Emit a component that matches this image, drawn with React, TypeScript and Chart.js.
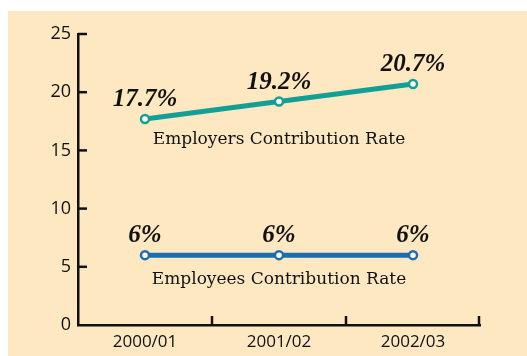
import React, { useEffect, useRef } from "react";
import { Chart, registerables } from "chart.js";

Chart.register(...registerables);

const categories = ["2000/01", "2001/02", "2002/03"];
const employersRate = [17.7, 19.2, 20.7];
const employeesRate = [6, 6, 6];
const employersLabels = ["17.7%", "19.2%", "20.7%"];
const employeesLabels = ["6%", "6%", "6%"];
const seriesNames = ["Employers Contribution Rate", "Employees Contribution Rate"];
const yTicks = [0, 5, 10, 15, 20, 25];

const TEAL = "#12a096";
const BLUE = "#1a6db1";
const INK = "#111111";

const decorPlugin = {
  id: "decor",
  beforeDraw(chart: any) {
    const { ctx, width, height } = chart;
    ctx.save();
    ctx.fillStyle = "#ffffff";
    ctx.fillRect(0, 0, width, height);
    ctx.fillStyle = "#fde8c2";
    ctx.fillRect(8, 11, width - 8, height - 11);
    ctx.restore();
  },
  afterDraw(chart: any) {
    const { ctx, chartArea } = chart;
    const x = chart.scales.x;
    const y = chart.scales.y;
    ctx.save();
    ctx.strokeStyle = INK;
    ctx.lineWidth = 2.5;
    yTicks.forEach((v) => {
      const py = y.getPixelForValue(v);
      if (v === 0) return;
      ctx.beginPath();
      ctx.moveTo(chartArea.left, py);
      ctx.lineTo(chartArea.left + 9, py);
      ctx.stroke();
    });
    const bounds: number[] = [];
    for (let i = 0; i < categories.length - 1; i++) {
      bounds.push((x.getPixelForValue(i) + x.getPixelForValue(i + 1)) / 2);
    }
    bounds.push(chartArea.right - 1);
    bounds.forEach((bx) => {
      ctx.beginPath();
      ctx.moveTo(bx, chartArea.bottom);
      ctx.lineTo(bx, chartArea.bottom - 9);
      ctx.stroke();
    });
    ctx.fillStyle = INK;
    ctx.textAlign = "center";
    ctx.textBaseline = "alphabetic";
    ctx.font = "italic bold 25px 'Liberation Serif', serif";
    const labelSets = [employersLabels, employeesLabels];
    labelSets.forEach((labels, di) => {
      const meta = chart.getDatasetMeta(di);
      meta.data.forEach((pt: any, i: number) => {
        ctx.fillText(labels[i], pt.x, pt.y - 13);
      });
    });
    ctx.font = "17px 'DejaVu Serif', serif";
    const midX = x.getPixelForValue(1);
    ctx.fillText(seriesNames[0], midX, y.getPixelForValue(employersRate[1]) + 42);
    ctx.fillText(seriesNames[1], midX, y.getPixelForValue(employeesRate[1]) + 29);
    ctx.restore();
  },
};

export default function App() {
  const ref = useRef<HTMLCanvasElement | null>(null);
  useEffect(() => {
    if (!ref.current) return;
    const chart = new Chart(ref.current, {
      type: "line",
      data: {
        labels: categories,
        datasets: [
          {
            label: seriesNames[0],
            data: employersRate,
            borderColor: TEAL,
            borderWidth: 5,
            pointRadius: 4,
            pointBorderWidth: 2.5,
            pointBackgroundColor: "#ffffff",
            pointBorderColor: TEAL,
          },
          {
            label: seriesNames[1],
            data: employeesRate,
            borderColor: BLUE,
            borderWidth: 5,
            pointRadius: 4,
            pointBorderWidth: 2.5,
            pointBackgroundColor: "#ffffff",
            pointBorderColor: BLUE,
          },
        ],
      },
      options: {
        animation: false,
        responsive: false,
        maintainAspectRatio: false,
        layout: { padding: { left: 8, top: 34, right: 47, bottom: 0 } },
        plugins: { legend: { display: false }, tooltip: { enabled: false } },
        scales: {
          x: {
            offset: true,
            grid: { display: false, drawTicks: false },
            border: { display: true, color: INK, width: 2.5 },
            ticks: {
              color: INK,
              padding: 7,
              font: { family: "'Open Sans', sans-serif", size: 17 },
            },
            afterFit: (s: any) => {
              s.height = 31;
            },
          },
          y: {
            min: 0,
            max: 25,
            afterBuildTicks: (s: any) => {
              s.ticks = yTicks.map((v) => ({ value: v }));
            },
            grid: { display: false, drawTicks: false },
            border: { display: true, color: INK, width: 2.5 },
            ticks: {
              color: INK,
              padding: 7,
              font: { family: "'Open Sans', sans-serif", size: 18 },
            },
            afterFit: (s: any) => {
              s.width = 70;
            },
          },
        },
      },
      plugins: [decorPlugin],
    });
    return () => chart.destroy();
  }, []);
  return (
    <div style={{ position: "fixed", left: 0, top: 0, width: 527, height: 356 }}>
      <canvas ref={ref} width={527} height={356} style={{ display: "block" }} />
    </div>
  );
}
